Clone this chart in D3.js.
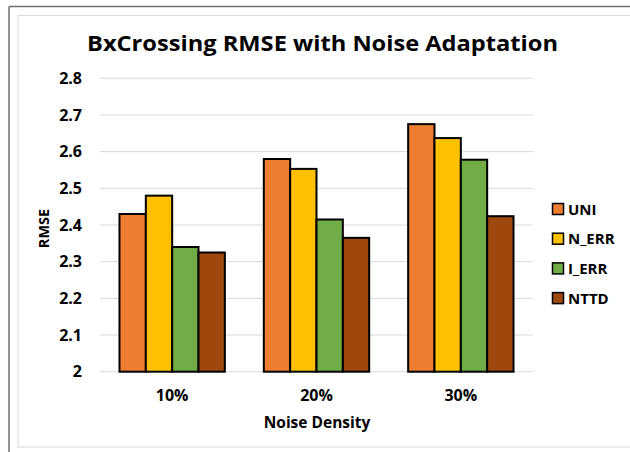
<!DOCTYPE html>
<html>
<head>
<meta charset="utf-8">
<script src="https://cdn.jsdelivr.net/npm/d3@7"></script>
<style>
  body { margin: 0; background: #fff; }
  text { font-family: "Open Sans", sans-serif; font-weight: bold; fill: #000; }
</style>
</head>
<body>
<script>
// chart data
const categories = ["10%", "20%", "30%"];
const seriesNames = ["UNI", "N_ERR", "I_ERR", "NTTD"];
const uni   = [2.43, 2.58, 2.675];
const nErr  = [2.48, 2.553, 2.637];
const iErr  = [2.34, 2.415, 2.578];
const nttd  = [2.325, 2.365, 2.424];
const yTicks = [2, 2.1, 2.2, 2.3, 2.4, 2.5, 2.6, 2.7, 2.8];
const colors = ["#ED7D31", "#FFC000", "#70AD47", "#9E480E"];

const series = [uni, nErr, iErr, nttd];

document.addEventListener("DOMContentLoaded", function () {
    var svg = d3.select("body").append("svg")
      .attr("width", 630)
      .attr("height", 452);

    // frame lines
    svg.append("line").attr("x1", 9).attr("y1", 6.5).attr("x2", 630).attr("y2", 6.5)
      .attr("stroke", "#707070").attr("stroke-width", 1.5);
    svg.append("line").attr("x1", 9).attr("y1", 6.5).attr("x2", 9).attr("y2", 452)
      .attr("stroke", "#707070").attr("stroke-width", 1.5);
    svg.append("rect")
      .attr("x", 18).attr("y", 15.5).attr("width", 640).attr("height", 431.5)
      .attr("fill", "none").attr("stroke", "#d9d9d9");

    const left = 100, right = 533, top = 78.3, bottom = 371.7;

    const y = d3.scaleLinear().domain([2, 2.8]).range([bottom, top]);
    const x0 = d3.scaleBand().domain(categories).range([left, right]).paddingInner(0.27).paddingOuter(0.135);
    const x1 = d3.scaleBand().domain(seriesNames).range([0, x0.bandwidth()]).padding(0);

    // grid
    svg.append("g")
      .selectAll("line")
      .data(yTicks)
      .join("line")
      .attr("x1", left).attr("x2", right)
      .attr("y1", d => y(d)).attr("y2", d => y(d))
      .attr("stroke", "#d9d9d9")
      .attr("stroke-width", 1);

    // y axis labels
    const yAxis = d3.axisLeft(y).tickValues(yTicks).tickSize(0).tickPadding(0)
      .tickFormat(d => d3.format("")(d));
    svg.append("g")
      .attr("transform", "translate(82,0)")
      .call(yAxis)
      .call(g => g.select(".domain").remove())
      .selectAll("text")
      .attr("font-size", 16)
      .attr("font-family", "'Open Sans', sans-serif")
      .attr("font-weight", "bold")
      .attr("fill", "#000");

    // bars
    svg.append("g")
      .selectAll("g")
      .data(categories)
      .join("g")
      .attr("transform", d => "translate(" + x0(d) + ",0)")
      .selectAll("rect")
      .data((d, i) => seriesNames.map((s, j) => ({ s: s, v: series[j][i], c: colors[j] })))
      .join("rect")
      .attr("x", d => x1(d.s))
      .attr("y", d => y(d.v))
      .attr("width", x1.bandwidth())
      .attr("height", d => y(2) - y(d.v))
      .attr("fill", d => d.c)
      .attr("stroke", "#000")
      .attr("stroke-width", 2);

    // x axis labels
    const xAxis = d3.axisBottom(x0).tickSize(0).tickPadding(0);
    svg.append("g")
      .attr("transform", "translate(0,401)")
      .call(xAxis)
      .call(g => g.select(".domain").remove())
      .selectAll("text")
      .attr("dy", 0)
      .attr("font-size", 16)
      .attr("font-family", "'Open Sans', sans-serif")
      .attr("font-weight", "bold")
      .attr("fill", "#000");

    // title
    svg.append("text")
      .attr("x", 322.5)
      .attr("y", 51)
      .attr("text-anchor", "middle")
      .attr("font-size", 21)
      .attr("textLength", 471)
      .attr("lengthAdjust", "spacingAndGlyphs")
      .text("BxCrossing RMSE with Noise Adaptation");

    // axis titles
    svg.append("text")
      .attr("x", 317)
      .attr("y", 428)
      .attr("text-anchor", "middle")
      .attr("font-size", 15.5)
      .text("Noise Density");

    svg.append("text")
      .attr("transform", "translate(48.5,228.5) rotate(-90)")
      .attr("text-anchor", "middle")
      .attr("font-size", 14.5)
      .text("RMSE");

    // legend
    const legend = svg.append("g")
      .selectAll("g")
      .data(seriesNames)
      .join("g")
      .attr("transform", (d, i) => "translate(552.5," + (203.5 + i * 29.7) + ")");
    legend.append("rect")
      .attr("width", 11).attr("height", 11)
      .attr("fill", (d, i) => colors[i])
      .attr("stroke", "#000").attr("stroke-width", 1.5);
    legend.append("text")
      .attr("x", 15.5)
      .attr("y", 11)
      .attr("font-size", 15)
      .text(d => d);
});
</script>
</body>
</html>
